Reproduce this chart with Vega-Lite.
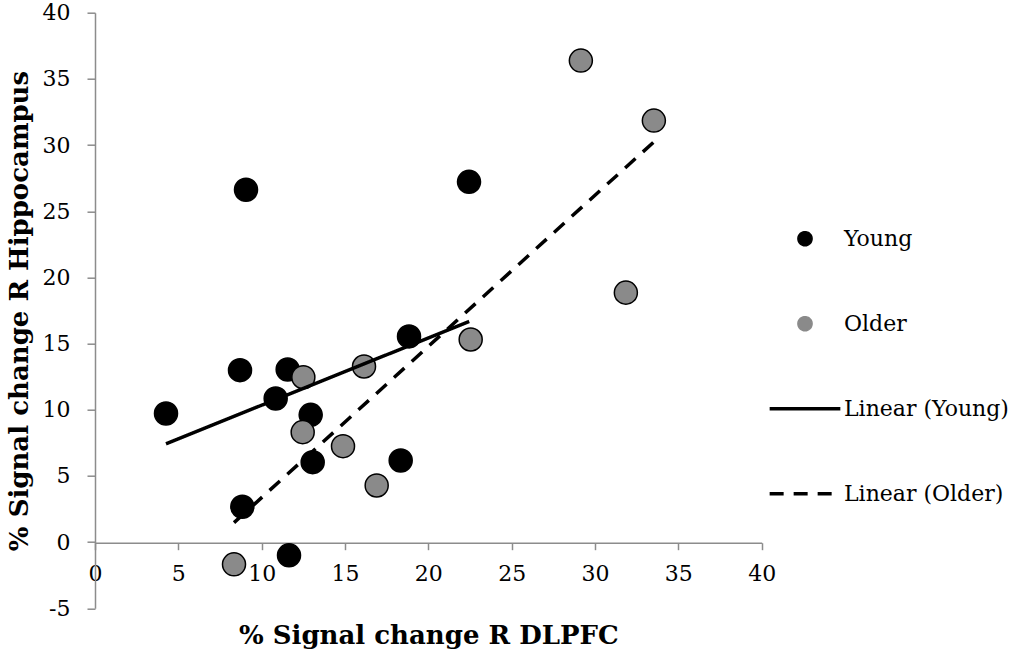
{
  "$schema": "https://vega.github.io/schema/vega-lite/v6.json",
  "width": 666.7,
  "height": 595.6,
  "autosize": "none",
  "padding": {"left": 95, "top": 12.7, "right": 251.3, "bottom": 40.7},
  "background": "white",
  "config": {
    "view": {"stroke": null},
    "font": "DejaVu Serif"
  },
  "data": {
    "values": [
      {"group": "Young", "x": 9.06, "y": 26.62},
      {"group": "Young", "x": 8.70, "y": 12.99},
      {"group": "Young", "x": 11.56, "y": 13.04},
      {"group": "Young", "x": 4.26, "y": 9.72},
      {"group": "Young", "x": 10.84, "y": 10.85},
      {"group": "Young", "x": 12.94, "y": 9.62},
      {"group": "Young", "x": 13.06, "y": 6.04},
      {"group": "Young", "x": 18.34, "y": 6.17},
      {"group": "Young", "x": 18.84, "y": 15.54},
      {"group": "Young", "x": 8.84, "y": 2.67},
      {"group": "Young", "x": 11.64, "y": -1.0},
      {"group": "Young", "x": 22.44, "y": 27.22},
      {"group": "Older", "x": 12.50, "y": 12.46},
      {"group": "Older", "x": 16.14, "y": 13.27},
      {"group": "Older", "x": 12.46, "y": 8.31},
      {"group": "Older", "x": 14.88, "y": 7.25},
      {"group": "Older", "x": 16.90, "y": 4.28},
      {"group": "Older", "x": 8.34, "y": -1.68},
      {"group": "Older", "x": 29.15, "y": 36.38},
      {"group": "Older", "x": 33.53, "y": 31.85},
      {"group": "Older", "x": 31.85, "y": 18.85},
      {"group": "Older", "x": 22.54, "y": 15.31},
      {"group": "Linear (Young)", "x": 4.26, "y": 7.43},
      {"group": "Linear (Young)", "x": 22.45, "y": 16.67},
      {"group": "Linear (Older)", "x": 8.34, "y": 1.47},
      {"group": "Linear (Older)", "x": 33.53, "y": 30.24}
    ]
  },
  "layer": [
    {
      "transform": [{"filter": {"field": "group", "oneOf": ["Young", "Older"]}}],
      "mark": {"type": "point", "filled": true, "stroke": "black", "opacity": 1, "size": 530},
      "encoding": {
        "x": {
          "field": "x", "type": "quantitative",
          "scale": {"domain": [0, 40], "nice": false, "zero": false},
          "axis": {
            "values": [0, 5, 10, 15, 20, 25, 30, 35, 40],
            "labelExpr": "'' + datum.value",
            "offset": -65.6,
            "grid": false,
            "title": "% Signal change R DLPFC",
            "titleFont": "DejaVu Serif",
            "titleFontWeight": "bold",
            "titleFontSize": 26,
            "titleColor": "black",
            "titleY": 100.6,
            "titleBaseline": "alphabetic",
            "labelFont": "DejaVu Serif",
            "labelFontSize": 22,
            "labelColor": "black",
            "labelPadding": 14,
            "labelFlush": false,
            "labelOverlap": false,
            "tickSize": 7,
            "tickWidth": 1.5,
            "tickColor": "#8c8c8c",
            "domainColor": "#8c8c8c",
            "domainWidth": 1.5
          }
        },
        "y": {
          "field": "y", "type": "quantitative",
          "scale": {"domain": [-5, 40], "nice": false, "zero": false},
          "axis": {
            "values": [-5, 0, 5, 10, 15, 20, 25, 30, 35, 40],
            "labelExpr": "'' + datum.value",
            "grid": false,
            "title": "% Signal change R Hippocampus",
            "titleFont": "DejaVu Serif",
            "titleFontWeight": "bold",
            "titleFontSize": 26,
            "titleColor": "black",
            "titleX": -68,
            "titleY": 297.8,
            "titleAngle": -90,
            "titleBaseline": "alphabetic",
            "titleAlign": "center",
            "labelFont": "DejaVu Serif",
            "labelFontSize": 22,
            "labelColor": "black",
            "labelPadding": 17,
            "labelFlush": false,
            "labelOverlap": false,
            "tickSize": 8,
            "tickWidth": 1.5,
            "tickColor": "#8c8c8c",
            "domainColor": "#8c8c8c",
            "domainWidth": 1.5
          }
        },
        "color": {
          "field": "group", "type": "nominal",
          "scale": {"domain": ["Young", "Older", "Linear (Young)", "Linear (Older)"], "range": ["#000000", "#8a8a8a", "#000000", "#000000"]},
          "legend": {"title": null, "orient": "none", "legendX": 699, "legendY": 215, "symbolSize": 200, "labelFont": "DejaVu Serif", "labelFontSize": 22, "labelColor": "black", "labelLimit": 400, "rowPadding": 63, "labelOffset": 28, "padding": 0, "symbolStrokeColor": "black", "encode": {"symbols": {"update": {"stroke": {"value": "black"}}}}}
        },
        "shape": {
          "field": "group", "type": "nominal",
          "scale": {"domain": ["Young", "Older", "Linear (Young)", "Linear (Older)"], "range": ["circle", "circle", "M-5,0L5,0", "M-5,0L5,0"]},
          "legend": {"title": null, "orient": "none", "legendX": 699, "legendY": 215, "symbolSize": 200, "labelFont": "DejaVu Serif", "labelFontSize": 22, "labelColor": "black", "labelLimit": 400, "rowPadding": 63, "labelOffset": 28, "padding": 0, "symbolStrokeColor": "black", "encode": {"symbols": {"update": {"stroke": {"value": "black"}}}}}
        },
        "strokeWidth": {
          "field": "group", "type": "nominal",
          "scale": {"type": "ordinal", "domain": ["Young", "Older", "Linear (Young)", "Linear (Older)"], "range": [1.5, 1.5, 3.5, 3.5]},
          "legend": {"title": null, "orient": "none", "legendX": 699, "legendY": 215, "symbolSize": 200, "labelFont": "DejaVu Serif", "labelFontSize": 22, "labelColor": "black", "labelLimit": 400, "rowPadding": 63, "labelOffset": 28, "padding": 0, "symbolStrokeColor": "black", "encode": {"symbols": {"update": {"stroke": {"value": "black"}}}}}
        }
      }
    },
    {
      "transform": [{"filter": {"field": "group", "oneOf": ["Linear (Young)", "Linear (Older)"]}}],
      "mark": {"type": "line"},
      "encoding": {
        "x": {"field": "x", "type": "quantitative"},
        "y": {"field": "y", "type": "quantitative"},
        "color": {"field": "group", "type": "nominal"},
        "strokeWidth": {
          "field": "group", "type": "nominal",
          "scale": {"type": "ordinal", "domain": ["Young", "Older", "Linear (Young)", "Linear (Older)"], "range": [1.5, 1.5, 3.5, 3.5]},
          "legend": {"title": null, "orient": "none", "legendX": 699, "legendY": 215, "symbolSize": 200, "labelFont": "DejaVu Serif", "labelFontSize": 22, "labelColor": "black", "labelLimit": 400, "rowPadding": 63, "labelOffset": 28, "padding": 0, "symbolStrokeColor": "black", "encode": {"symbols": {"update": {"stroke": {"value": "black"}}}}}
        },
        "strokeDash": {
          "field": "group", "type": "nominal",
          "scale": {"domain": ["Young", "Older", "Linear (Young)", "Linear (Older)"], "range": [[1, 0], [1, 0], [1, 0], [14, 10]]},
          "legend": {"title": null, "orient": "none", "legendX": 699, "legendY": 215, "symbolSize": 200, "labelFont": "DejaVu Serif", "labelFontSize": 22, "labelColor": "black", "labelLimit": 400, "rowPadding": 63, "labelOffset": 28, "padding": 0, "symbolStrokeColor": "black", "encode": {"symbols": {"update": {"stroke": {"value": "black"}}}}}
        }
      }
    }
  ]
}
